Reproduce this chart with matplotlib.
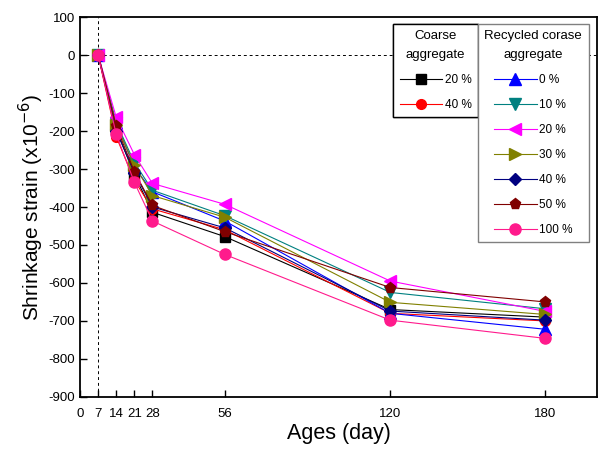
import numpy as np
import matplotlib.pyplot as plt
from matplotlib.lines import Line2D

plt.rcParams['font.family'] = ['Liberation Sans', 'DejaVu Sans']
plt.rcParams['axes.unicode_minus'] = False

# ages (day)
ages = [7, 14, 21, 28, 56, 120, 180]

# coarse aggregate series
coarse_labels = ['20 %', '40 %']
coarse_20 = [0, -195, -315, -414, -478, -670, -690]
coarse_40 = [0, -215, -330, -405, -460, -680, -700]

# recycled coarse aggregate series
recycled_labels = ['0 %', '10 %', '20 %', '30 %', '40 %', '50 %', '100 %']
rca_0 = [0, -180, -295, -360, -437, -680, -722]
rca_10 = [0, -178, -283, -356, -423, -625, -668]
rca_20 = [0, -164, -262, -338, -393, -595, -675]
rca_30 = [0, -185, -290, -370, -427, -651, -683]
rca_40 = [0, -200, -310, -400, -455, -674, -698]
rca_50 = [0, -188, -307, -396, -465, -612, -650]
rca_100 = [0, -209, -335, -437, -525, -698, -746]

xticks = [0, 7, 14, 21, 28, 56, 120, 180]
yticks = list(range(-900, 101, 100))

coarse_series = [coarse_20, coarse_40]
coarse_styles = [('black', 's'), ('red', 'o')]
rca_series = [rca_0, rca_10, rca_20, rca_30, rca_40, rca_50, rca_100]
rca_styles = [('blue', '^'), ('#008080', 'v'), ('magenta', '<'), ('#808000', '>'),
              ('#000080', 'D'), ('#800000', 'p'), ('#FF1A8C', 'o')]

fig = plt.figure(figsize=(6.02, 4.5), dpi=100)
ax = fig.add_axes([0.133, 0.118, 0.859, 0.844])

ax.axhline(0, color='black', ls='--', lw=0.7, dashes=(3, 3), zorder=1)
ax.axvline(7, color='black', ls='--', lw=0.7, dashes=(3, 3), zorder=1)

h_coarse = []
for vals, (c, m), lab in zip(coarse_series, coarse_styles, coarse_labels):
    ln, = ax.plot(ages, vals, color=c, marker=m, lw=0.8, ms=7, label=lab, zorder=3)
    h_coarse.append(ln)

h_rca = []
for vals, (c, m), lab in zip(rca_series, rca_styles, recycled_labels):
    ms = 6 if m == 'D' else 8
    ln, = ax.plot(ages, vals, color=c, marker=m, lw=0.8, ms=ms, label=lab, zorder=3)
    h_rca.append(ln)

ax.set_xlim(0, 200)
ax.set_ylim(-900, 100)
ax.set_xticks(xticks)
ax.set_yticks(yticks)
ax.tick_params(direction='in', labelsize=9.5, length=5, width=1)
ax.tick_params(axis='x', pad=8)
for s in ax.spines.values():
    s.set_linewidth(1.3)

ax.set_xlabel('Ages (day)', fontsize=15.5, labelpad=2)
ax.set_ylabel(r'Shrinkage strain (x10$^{-6}$)', fontsize=15, labelpad=2)

W, H = 602, 450
common = dict(borderaxespad=0, fancybox=False, framealpha=1, fontsize=8.5,
              title_fontsize=9.5, handlelength=3.6, handletextpad=0.2,
              labelspacing=1.1, alignment='center', borderpad=0.55)
leg1 = fig.legend(handles=h_coarse, title='Coarse\naggregate', loc='upper right',
                  bbox_to_anchor=(478 / W, 1 - 24 / H), edgecolor='black', **common)
leg2 = fig.legend(handles=h_rca, title='Recycled corase\naggregate', loc='upper left',
                  bbox_to_anchor=(478 / W, 1 - 24 / H), edgecolor='gray', **common)
for lg in (leg1, leg2):
    lg.get_frame().set_linewidth(1.0)
    lg.get_title().set_linespacing(1.7)
    lg.get_title().set_multialignment('center')
fig.add_artist(leg1)

fig.savefig('out.png', dpi=100)
